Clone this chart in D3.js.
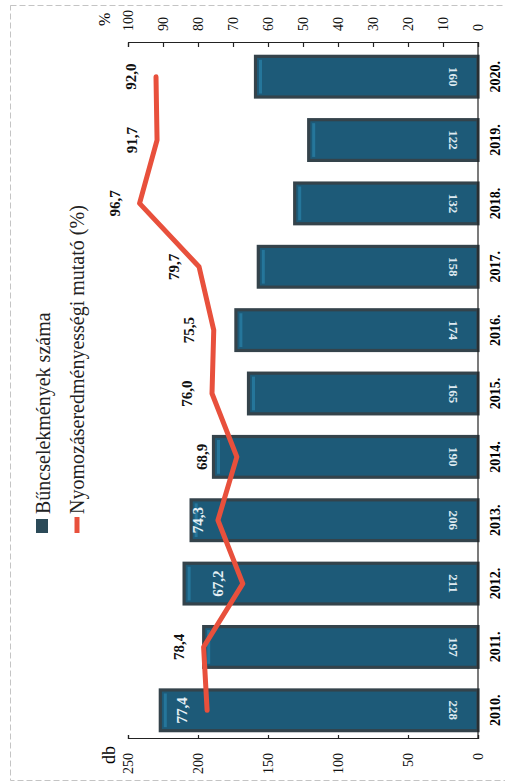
<!DOCTYPE html>
<html><head><meta charset="utf-8">
<script src="https://cdn.jsdelivr.net/npm/d3@7"></script>
<style>body{margin:0;background:#fff}svg{display:block}</style>
</head><body>
<script>
const years = ["2010.","2011.","2012.","2013.","2014.","2015.","2016.","2017.","2018.","2019.","2020."];
const crimes = [228,197,211,206,190,165,174,158,132,122,160];
const rate = [77.4,78.4,67.2,74.3,68.9,76.0,75.5,79.7,96.7,91.7,92.0];
const dbTicks = [0,50,100,150,200,250];
const pctTicks = [0,10,20,30,40,50,60,70,80,90,100];
const seriesNames = ["Bűncselekmények száma","Nyomozáseredményességi mutató (%)"];

const W = 505, H = 783;
const svg = d3.select("body").append("svg").attr("width",W).attr("height",H);
svg.append("rect").attr("x",10.5).attr("y",5.5).attr("width",W+5).attr("height",775)
  .attr("fill","none").attr("stroke","#c4c4c4").attr("stroke-dasharray","6,3");

// chart is drawn unrotated (783 wide x 505 tall) and rotated -90deg
const g = svg.append("g").attr("transform",`translate(0,${H}) rotate(-90)`);
const FONT = "'Liberation Serif','Times New Roman',serif";

const x = d3.scaleBand().domain(years).range([41,738]).paddingInner(0.31).paddingOuter(0.155);
const yB = d3.scaleLinear().domain([0,250]).range([478,128]);
const yP = d3.scaleLinear().domain([0,100]).range([478,128]);
const cx = i => x(years[i]) + x.bandwidth()/2;

// bars
const bars = g.append("g");
bars.selectAll("rect.bar").data(crimes).join("rect").attr("class","bar")
  .attr("x",(d,i)=>x(years[i])+1.5).attr("width",x.bandwidth()-3)
  .attr("y",d=>yB(d)+1.5).attr("height",d=>yB(0)-yB(d)-1.5)
  .attr("fill","#1d5a78").attr("stroke","#34434b").attr("stroke-width",3.2);
bars.selectAll("rect.hl").data(crimes).join("rect").attr("class","hl")
  .attr("x",(d,i)=>x(years[i])+5).attr("width",x.bandwidth()-10)
  .attr("y",d=>yB(d)+5).attr("height",3)
  .attr("fill","#2a82aa").attr("opacity",0.7);

// bar value labels (upside down)
g.append("g").selectAll("text").data(crimes).join("text")
  .attr("transform",(d,i)=>`translate(${cx(i)},454) rotate(180)`)
  .attr("text-anchor","middle").attr("dy","0.35em")
  .style("font-family",FONT).style("font-size","13px").style("font-weight","bold")
  .attr("fill","#dde9f0").text(d=>d);

// baseline
g.append("line").attr("x1",44).attr("x2",740).attr("y1",478).attr("y2",478)
  .attr("stroke","#222").attr("stroke-width",1.2);

// axes
const axL = g.append("g").attr("transform","translate(44,0)")
  .call(d3.axisLeft(yB).tickValues(dbTicks).tickSizeInner(-4).tickSizeOuter(-4).tickPadding(14));
const axR = g.append("g").attr("transform","translate(740,0)")
  .call(d3.axisRight(yP).tickValues(pctTicks).tickSizeInner(-4).tickSizeOuter(-4).tickPadding(12));
[axL,axR].forEach(a=>{
  a.selectAll("path,line").attr("stroke","#222").attr("stroke-width",1.2);
  a.selectAll("text").style("font-family",FONT).style("font-size","14px").attr("fill","#111");
});
g.append("text").attr("x",37).attr("y",115).attr("text-anchor","end")
  .style("font-family",FONT).style("font-size","18px").text("db");
g.append("text").attr("x",757).attr("y",110)
  .style("font-family",FONT).style("font-size","16px").text("%");

// year labels
g.append("g").selectAll("text").data(years).join("text")
  .attr("x",d=>x(d)+x.bandwidth()/2).attr("y",500).attr("text-anchor","middle")
  .style("font-family",FONT).style("font-size","14px").style("font-weight","bold")
  .text(d=>d);

// line
const line = d3.line().x((d,i)=>cx(i)).y(d=>yP(d));
g.append("path").datum(rate).attr("d",line).attr("fill","none")
  .attr("stroke","#e8503c").attr("stroke-width",5).attr("stroke-linejoin","round").attr("stroke-linecap","round");

// rate labels: above the point; nudged clear of the bar's top edge
function labelPos(d,i){
  const p = yP(d), top = yB(crimes[i]);
  let y = p - 25;
  if (Math.abs(y - top) < 8) y = (p - top > 25) ? top + 8 : top - 10;
  return y;
}
g.append("g").selectAll("text").data(rate).join("text")
  .attr("x",(d,i)=>cx(i)).attr("y",(d,i)=>labelPos(d,i))
  .attr("text-anchor","middle").attr("dy","0.35em")
  .style("font-family",FONT).style("font-size","15px").style("font-weight","bold")
  .attr("fill",(d,i)=> labelPos(d,i) > yB(crimes[i]) ? "#e6f0f5" : "#111")
  .text(d=>d.toFixed(1).replace(".",","));

// legend
const lg = g.append("g");
lg.append("rect").attr("x",250).attr("y",36).attr("width",14).attr("height",12).attr("fill","#2b4a58");
lg.append("line").attr("x1",250).attr("x2",266).attr("y1",77).attr("y2",77)
  .attr("stroke","#e8503c").attr("stroke-width",5);
lg.selectAll("text").data(seriesNames).join("text")
  .attr("x",269).attr("y",(d,i)=>i?84:50)
  .style("font-family",FONT).style("font-size","20px").attr("fill","#222").text(d=>d);
</script>
</body></html>
